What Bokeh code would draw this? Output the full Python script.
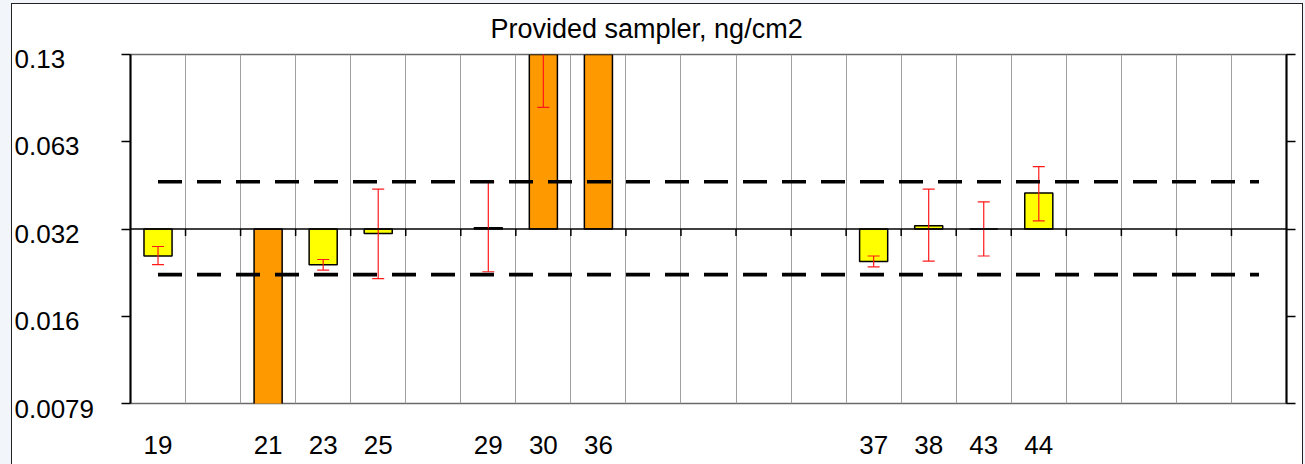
from bokeh.plotting import figure
from bokeh.layouts import row
from bokeh.core.properties import value
from bokeh.models import (ColumnDataSource, Range1d, LogScale, LogAxis, LinearAxis,
                          FixedTicker, Grid, Span, CustomJSTickFormatter,
                          GlobalInlineStyleSheet)
from bokeh.embed import file_html
from bokeh.resources import INLINE

# Category slots along the x axis (blank = empty slot)
labs = ["19", "", "21", "23", "25", "", "29", "30", "36", "", "", "", "",
        "37", "38", "43", "44", "", "", "", ""]

# Reported results, ng/cm2 (None = no result in that slot)
result = [0.0255, None, 0.0050, 0.0238, 0.0305, None, 0.0319, 0.19, 0.26,
          None, None, None, None, 0.0244, 0.0324, 0.0316, 0.0421,
          None, None, None, None]
err_low = [0.0238, None, 0.0035, 0.0228, 0.0213, None, 0.0225, 0.083, 0.17,
           None, None, None, None, 0.0234, 0.0245, 0.0255, 0.0337,
           None, None, None, None]
err_high = [0.0275, None, 0.0072, 0.0248, 0.0434, None, 0.0459, 0.30, 0.35,
            None, None, None, None, 0.0255, 0.0434, 0.0392, 0.0519,
            None, None, None, None]
outside = [False, None, True, False, False, None, False, True, True,
           None, None, None, None, False, False, False, False,
           None, None, None, None]

assigned = 0.0316
limit_high = 0.046
limit_low = 0.022

tick_vals = [0.0079, 0.0158, 0.0316, 0.0632, 0.1264]
tick_labels = ["0.0079", "0.016", "0.032", "0.063", "0.13"]

n = len(labs)
FONT = "Liberation Sans"

# layout in pixels
H = 460
TOP, BOTTOM = 49, 61          # space above / below the plotting frame
LAB_W = 109                   # column holding the value labels
MAIN_W = 1181
FRAME_H = H - TOP - BOTTOM
px_per_oct = FRAME_H / 4.0    # the value range spans four doublings

xs, tops, los, his, fills = [], [], [], [], []
for i in range(n):
    if result[i] is None:
        continue
    xs.append(i + 0.5)
    tops.append(result[i])
    los.append(err_low[i])
    his.append(err_high[i])
    fills.append("#FF9900" if outside[i] else "#FFFF00")

src = ColumnDataSource(dict(x=xs, top=tops, lo=los, hi=his, fill=fills))

p = figure(width=MAIN_W, height=H,
           x_range=Range1d(0, n), y_range=Range1d(tick_vals[0], tick_vals[-1]),
           y_axis_type="log", x_axis_location=None, y_axis_location=None,
           output_backend="svg", toolbar_location=None,
           min_border_left=9, min_border_right=16,
           min_border_top=TOP, min_border_bottom=BOTTOM)
p.y_scale = LogScale()
p.frame_align = False
p.border_fill_color = "white"
p.background_fill_color = "white"
p.outline_line_color = "#6a6a6a"
p.outline_line_width = 1.5
p.xgrid.visible = False
p.ygrid.visible = False

# chart title
p.title.text = "Provided sampler, ng/cm2"
p.title.text_font = FONT
p.title.text_font_size = "27px"
p.title.text_font_style = "normal"
p.title.text_color = "black"
p.title.align = "left"
p.title.offset = 360
p.title.vertical_align = "top"
p.title.standoff = 18

# vertical separators between category slots
p.add_layout(Grid(dimension=0, ticker=FixedTicker(ticks=list(range(1, n))),
                  grid_line_color="#a0a0a0", grid_line_width=1))

# left and right value axes (tick marks only; labels are drawn alongside)
for side in ("left", "right"):
    ax = LogAxis(ticker=FixedTicker(ticks=tick_vals),
                 formatter=CustomJSTickFormatter(code="return ''"),
                 axis_line_color="black", axis_line_width=2,
                 major_tick_line_color="black", major_tick_line_width=1.5,
                 major_tick_out=9, major_tick_in=0,
                 minor_tick_line_color=None, major_label_standoff=0)
    p.add_layout(ax, side)

# category labels under the chart
label_ticks = [i + 0.5 for i in range(n) if labs[i]]
bottom_ax = LinearAxis(ticker=FixedTicker(ticks=label_ticks),
                       formatter=CustomJSTickFormatter(args=dict(labs=labs),
                                                       code="return labs[Math.floor(tick)]"),
                       axis_line_color=None, major_tick_line_color=None,
                       minor_tick_line_color=None, major_tick_out=0,
                       major_label_standoff=32,
                       major_label_text_font=FONT,
                       major_label_text_font_size="26px",
                       major_label_text_color="black")
p.add_layout(bottom_ax, "below")

# bars measured from the assigned value
p.vbar(x="x", width=0.51, bottom=assigned, top="top", source=src,
       fill_color="fill", line_color="black", line_width=1.5)

# assigned-value axis line with its slot ticks
p.add_layout(Span(location=assigned, dimension="width",
                  line_color="black", line_width=1.5))
bounds = list(range(1, n))
p.segment(x0=bounds, x1=bounds, y0=[assigned] * len(bounds),
          y1=[assigned * 2 ** (-7 / px_per_oct)] * len(bounds),
          line_color="black", line_width=1.5)

# uncertainty bars
p.segment(x0="x", x1="x", y0="lo", y1="hi", source=src,
          line_color="#ff1a1a", line_width=1.2)
p.scatter(x="x", y="lo", source=src, marker="dash", size=12,
          line_color="#ff1a1a", line_width=1.2)
p.scatter(x="x", y="hi", source=src, marker="dash", size=12,
          line_color="#ff1a1a", line_width=1.2)

# acceptance limits
for lim in (limit_high, limit_low):
    p.segment(x0=[0.5], x1=[n - 0.5], y0=[lim], y1=[lim],
              line_color="black", line_width=3.7, line_dash="24 15")

# value labels: a strip sharing the same log mapping, stretched to full height
lab_lo = tick_vals[0] * 2 ** (-BOTTOM / px_per_oct)
lab_hi = tick_vals[-1] * 2 ** (TOP / px_per_oct)
q = figure(width=LAB_W, height=H, x_range=Range1d(0, LAB_W),
           y_range=Range1d(lab_lo, lab_hi), y_axis_type="log",
           x_axis_location=None, y_axis_location=None,
           output_backend="svg", toolbar_location=None,
           min_border_left=0, min_border_right=0,
           min_border_top=0, min_border_bottom=0)
q.y_scale = LogScale()
q.frame_align = False
q.outline_line_color = None
q.border_fill_color = "white"
q.background_fill_color = "white"
q.xgrid.visible = False
q.ygrid.visible = False
q.text(x=[2] * len(tick_vals), y=tick_vals, text=tick_labels,
       text_font=value(FONT), text_font_size=value("26px"), text_color="black",
       text_align="left", text_baseline="middle", y_offset=5)

page = row(q, p, spacing=0,
           styles={"margin-left": "11px", "margin-top": "3px",
                   "border-left": "1px solid #222", "border-top": "1px solid #222",
                   "border-right": "1px solid #222", "background": "white"},
           stylesheets=[GlobalInlineStyleSheet(css="html, body { background: #f2f5fa; margin: 0; }")])

open("out.html", "w").write(file_html(page, INLINE))
